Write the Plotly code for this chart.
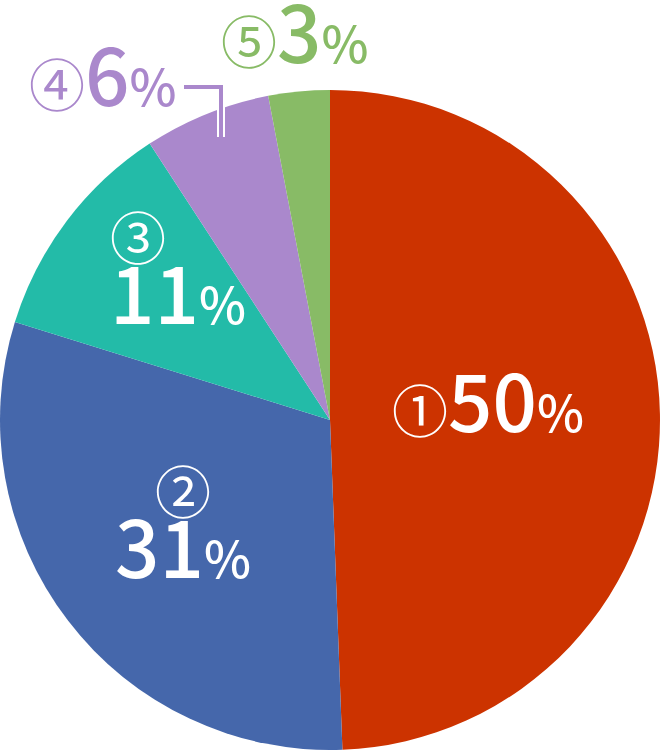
import plotly.graph_objects as go

# slice shares (clockwise from 12 o'clock)
labels = ["①", "②", "③", "④", "⑤"]
values = [49.4, 30.4, 11.0, 6.2, 3.0]
shown = ["50", "31", "11", "6", "3"]
colors = ["#cc3300", "#4567ab", "#23bba8", "#aa88cc", "#88bb66"]

W, H = 660, 750
FONT = "Noto Sans CJK JP"


def px(x, y):
    return x / W, 1 - y / H


def span(t, s, w):
    return f'<span style="font-size:{s}px;font-weight:{w}">{t}</span>'


def num(i):
    return span(shown[i], 78, 500) + span("%", 50, 500)


fig = go.Figure(go.Pie(
    labels=labels, values=values, sort=False, direction="clockwise", rotation=0,
    marker=dict(colors=colors, line=dict(width=0)), textinfo="none",
    hoverinfo="label+percent", showlegend=False,
    domain=dict(x=[0, 1], y=[0, 1 - 90 / H]),
))

ann = []


def add(text, x, y, color, xanchor="center", align="center"):
    ax, ay = px(x, y)
    ann.append(dict(text=text, x=ax, y=ay, xref="paper", yref="paper",
                    xanchor=xanchor, yanchor="middle", align=align, showarrow=False,
                    font=dict(family=FONT, color=color, size=50)))


# inline labels: circled number + value on one line
add(span(labels[0], 56, 400) + num(0), 488, 398, "white")
add(span(labels[3], 56, 400) + num(3), 102, 72, colors[3])
add(span(labels[4], 56, 400) + num(4), 294, 29, colors[4])
# stacked labels: circled number above value
add(span(labels[1], 56, 400) + "<br>" + num(1), 183, 524, "white")
add(span(labels[2], 56, 400) + "<br>" + num(2), 108, 270, "white",
    xanchor="left", align="left")

# bracket leader for slice 4
x0, y0 = px(184, 87)
x1, y1 = px(221, 87)
x2, y2 = px(221, 137)
path = f"M {x0},{y0} L {x1},{y1} L {x2},{y2}"
shapes = [
    dict(type="path", path=path, xref="paper", yref="paper",
         line=dict(color="white", width=8)),
    dict(type="path", path=path, xref="paper", yref="paper",
         line=dict(color=colors[3], width=4)),
]

fig.update_layout(width=W, height=H, margin=dict(l=0, r=0, t=0, b=0),
                  paper_bgcolor="white", plot_bgcolor="white",
                  annotations=ann, shapes=shapes)
fig.write_html("out.html", config={"displayModeBar": False},
               post_script="document.body.style.margin='0';")
